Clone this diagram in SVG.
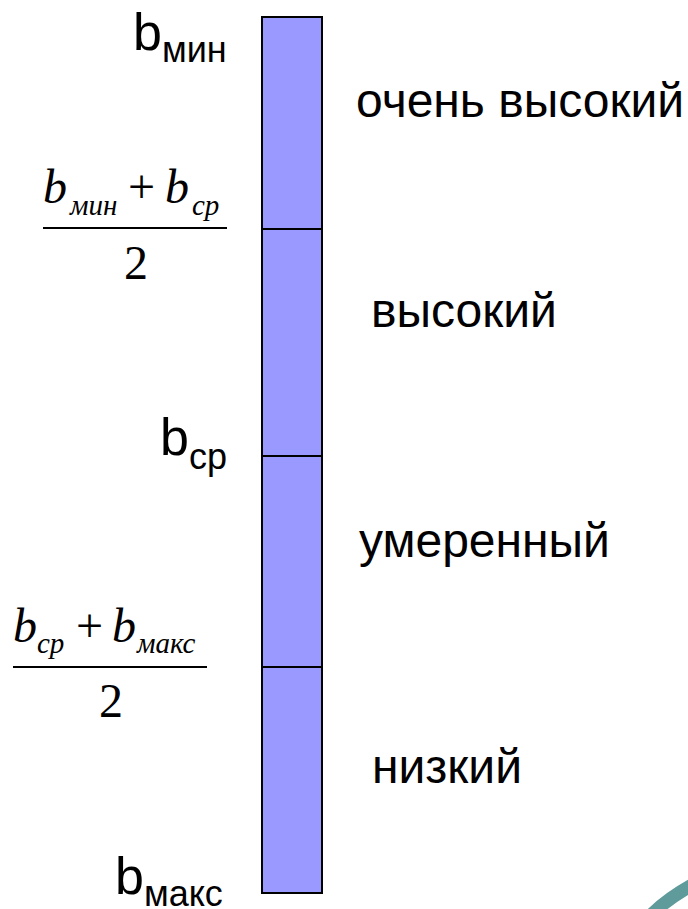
<svg xmlns="http://www.w3.org/2000/svg" width="688" height="909" viewBox="0 0 688 909">
<style>
.lab{font-family:"Liberation Sans",Arial,sans-serif;font-size:48px;fill:#000}
.b{font-family:"Liberation Sans",Arial,sans-serif;font-size:52px;fill:#000}
.sub{font-size:36px}
.f{font-family:"Liberation Serif","Times New Roman",serif;font-size:48px;fill:#000}
.fi{font-style:italic}
.fs{font-family:"Liberation Serif","Times New Roman",serif;font-style:italic;font-size:29px;fill:#000}
.seg{fill:#9999FF;stroke:#000;stroke-width:2}
.div{stroke:#000;stroke-width:2}
</style>
<rect width="688" height="909" fill="#fff"/>
<g id="scale">
<rect class="seg" x="262" y="17" width="60" height="876"/>
<line class="div" x1="262" y1="229" x2="322" y2="229"/>
<line class="div" x1="262" y1="456" x2="322" y2="456"/>
<line class="div" x1="262" y1="667" x2="322" y2="667"/>
</g>
<g id="b-min"><text class="b" x="133" y="50">b<tspan class="sub" dy="12">мин</tspan></text></g>
<g id="b-sr"><text class="b" x="160" y="455">b<tspan class="sub" dy="14">ср</tspan></text></g>
<g id="b-max"><text class="b" x="115" y="894">b<tspan class="sub" dy="12">макс</tspan></text></g>
<g id="formula-top">
<text class="f fi" x="43" y="203">b</text>
<text class="fs" x="70" y="215">мин</text>
<text class="f" x="128" y="203">+</text>
<text class="f fi" x="165" y="203">b</text>
<text class="fs" x="192" y="215">ср</text>
<line class="div" x1="43" y1="228" x2="227" y2="228"/>
<text class="f" x="124" y="279">2</text>
</g>
<g id="formula-bottom">
<text class="f fi" x="13" y="642">b</text>
<text class="fs" x="37" y="653">ср</text>
<text class="f" x="76" y="642">+</text>
<text class="f fi" x="112" y="642">b</text>
<text class="fs" x="137" y="653">макс</text>
<line class="div" x1="13" y1="667" x2="207" y2="667"/>
<text class="f" x="99" y="717">2</text>
</g>
<g id="label-1"><text class="lab" x="356" y="117">очень высокий</text></g>
<g id="label-2"><text class="lab" x="371" y="327">высокий</text></g>
<g id="label-3"><text class="lab" x="359" y="557">умеренный</text></g>
<g id="label-4"><text class="lab" x="372" y="783">низкий</text></g>
<g id="connectors"></g>
<path d="M 650 916 Q 668 898 694 884" fill="none" stroke="#5F9B9B" stroke-width="13"/>
</svg>
